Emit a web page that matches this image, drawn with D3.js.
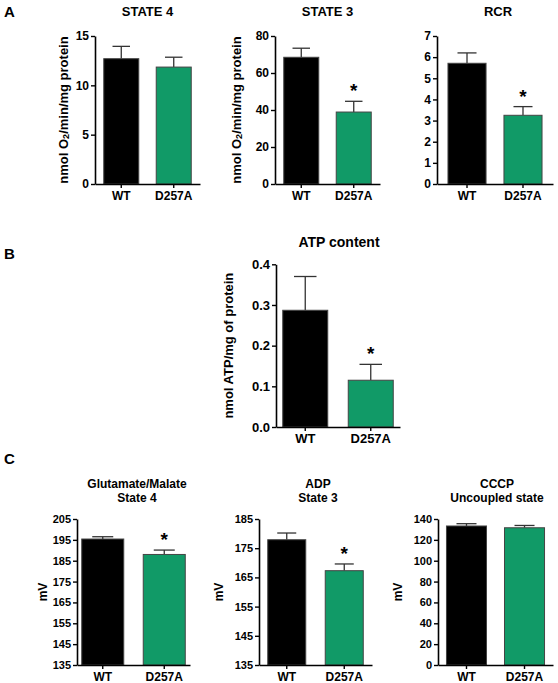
<!DOCTYPE html>
<html>
<head>
<meta charset="utf-8">
<script src="https://cdn.jsdelivr.net/npm/d3@7"></script>
<style>
  html, body { margin: 0; padding: 0; background: #fff; }
  svg { display: block; font-family: Arial, "Liberation Sans", sans-serif; font-weight: bold; }
</style>
</head>
<body>
<svg id="chart" width="558" height="683"></svg>
<script>
// ---------- DATA ----------
const groups = ["WT", "D257A"];

const state4Mean = [12.7, 11.85];
const state4Err  = [1.25, 1.0];
const state4Sig  = [false, false];
const state4Ticks = [0, 5, 10, 15];

const state3Mean = [68.5, 38.9];
const state3Err  = [4.9, 5.8];
const state3Sig  = [false, true];
const state3Ticks = [0, 20, 40, 60, 80];

const rcrMean = [5.71, 3.25];
const rcrErr  = [0.49, 0.41];
const rcrSig  = [false, true];
const rcrTicks = [0, 1, 2, 3, 4, 5, 6, 7];

const atpMean = [0.287, 0.115];
const atpErr  = [0.083, 0.039];
const atpSig  = [false, true];
const atpTicks = [0.0, 0.1, 0.2, 0.3, 0.4];

const gmMean = [195.4, 188.0];
const gmErr  = [1.1, 2.1];
const gmSig  = [false, true];
const gmTicks = [135, 145, 155, 165, 175, 185, 195, 205];

const adpMean = [177.9, 167.3];
const adpErr  = [2.3, 2.3];
const adpSig  = [false, true];
const adpTicks = [135, 145, 155, 165, 175, 185];

const cccpMean = [133.3, 131.6];
const cccpErr  = [2.2, 2.2];
const cccpSig  = [false, false];
const cccpTicks = [0, 20, 40, 60, 80, 100, 120, 140];

const barColors = ["#000000", "#119a67"];

// ---------- DRAW ----------
const svg = d3.select("#chart");

function panelLetter(txt, x, y) {
  svg.append("text").attr("x", x).attr("y", y)
    .attr("font-size", 15).attr("font-weight", "bold").text(txt);
}

function drawChart(cfg) {
  const g = svg.append("g");
  const x = d3.scaleBand().domain(groups)
    .range([cfg.x0, cfg.x1]).paddingInner(cfg.pi).paddingOuter(cfg.po);
  const y = d3.scaleLinear()
    .domain([cfg.ticks[0], cfg.ticks[cfg.ticks.length - 1]])
    .range([cfg.y1, cfg.y0]);

  // bars
  const data = groups.map((k, i) => ({ k, m: cfg.mean[i], e: cfg.err[i], s: cfg.sig[i], c: barColors[i] }));

  // error bars (upper only)
  data.forEach(d => {
    const cx = x(d.k) + x.bandwidth() / 2;
    const cw = x.bandwidth() * 0.25;
    g.append("line").attr("x1", cx).attr("x2", cx)
      .attr("y1", y(d.m)).attr("y2", y(d.m + d.e))
      .attr("stroke", "#333").attr("stroke-width", 1.3);
    g.append("line").attr("x1", cx - cw).attr("x2", cx + cw)
      .attr("y1", y(d.m + d.e)).attr("y2", y(d.m + d.e))
      .attr("stroke", "#333").attr("stroke-width", 1.3);
  });

  g.selectAll("rect.bar").data(data).join("rect")
    .attr("class", "bar")
    .attr("x", d => x(d.k))
    .attr("width", x.bandwidth())
    .attr("y", d => y(d.m))
    .attr("height", d => y(cfg.ticks[0]) - y(d.m))
    .attr("fill", d => d.c)
    .attr("stroke", "#444").attr("stroke-width", 1);

  // significance asterisks
  data.filter(d => d.s).forEach(d => {
    g.append("text")
      .attr("x", x(d.k) + x.bandwidth() / 2)
      .attr("y", y(d.m + d.e) - 4)
      .attr("text-anchor", "middle")
      .attr("font-size", 19).attr("font-weight", "bold")
      .text("*");
  });

  // y axis
  const ya = g.append("g").attr("transform", `translate(${cfg.x0},0)`)
    .call(d3.axisLeft(y).tickValues(cfg.ticks).tickSize(4).tickSizeOuter(0).tickPadding(2)
      .tickFormat(cfg.fmt ? d3.format(cfg.fmt) : d3.format("d")));
  ya.select(".domain").attr("stroke", "#000").attr("stroke-width", 1.6);
  ya.selectAll(".tick line").attr("stroke", "#000").attr("stroke-width", 1.4);
  ya.selectAll(".tick text").attr("font-size", cfg.tickFs).attr("font-weight", "bold")
    .attr("fill", "#000").attr("font-family", "Arial, 'Liberation Sans', sans-serif");

  // x axis
  const xa = g.append("g").attr("transform", `translate(0,${cfg.y1})`)
    .call(d3.axisBottom(x).tickSize(4).tickSizeOuter(0).tickPadding(3));
  xa.select(".domain").attr("stroke", "#000").attr("stroke-width", 1.6);
  xa.selectAll(".tick line").attr("stroke", "#000").attr("stroke-width", 1.4);
  xa.selectAll(".tick text").attr("font-size", cfg.xFs).attr("font-weight", "bold")
    .attr("fill", "#000").attr("font-family", "Arial, 'Liberation Sans', sans-serif");

  // title
  cfg.title.forEach((t, i) => {
    g.append("text").attr("x", cfg.tx).attr("y", cfg.ty + i * cfg.tls)
      .attr("text-anchor", "middle").attr("font-size", cfg.titleFs)
      .attr("font-weight", "bold").text(t);
  });

  // y label
  if (cfg.ylab) {
    const cy = (cfg.y0 + cfg.y1) / 2;
    const t = g.append("text")
      .attr("transform", `translate(${cfg.lx},${cy}) rotate(-90)`)
      .attr("text-anchor", "middle").attr("dominant-baseline", "central")
      .attr("font-size", cfg.labFs).attr("font-weight", "bold");
    cfg.ylab.forEach(part => {
      const ts = t.append("tspan").text(part.t);
      if (part.sub) ts.attr("font-size", cfg.labFs * 0.7).attr("dy", 3);
      if (part.after) ts.attr("dy", -3);
    });
  }
}

const o2Label = [{ t: "nmol O" }, { t: "2", sub: true }, { t: "/min/mg protein", after: true }];

panelLetter("A", 4, 17);
panelLetter("B", 4, 259);
panelLetter("C", 4, 464);

drawChart({ x0: 95, x1: 200, y0: 36, y1: 184, pi: 0.333, po: 0.167,
  mean: state4Mean, err: state4Err, sig: state4Sig, ticks: state4Ticks,
  tickFs: 12, xFs: 12, title: ["STATE 4"], tx: 147.5, ty: 15.5, tls: 14, titleFs: 13,
  ylab: o2Label, lx: 63, labFs: 13 });

drawChart({ x0: 275, x1: 380, y0: 36, y1: 184, pi: 0.333, po: 0.167,
  mean: state3Mean, err: state3Err, sig: state3Sig, ticks: state3Ticks,
  tickFs: 12, xFs: 12, title: ["STATE 3"], tx: 327.5, ty: 15.5, tls: 14, titleFs: 13,
  ylab: o2Label, lx: 236, labFs: 13 });

drawChart({ x0: 437, x1: 553, y0: 36, y1: 184, pi: 0.32, po: 0.196,
  mean: rcrMean, err: rcrErr, sig: rcrSig, ticks: rcrTicks,
  tickFs: 12, xFs: 12, title: ["RCR"], tx: 498, ty: 15.5, tls: 14, titleFs: 13,
  ylab: null });

drawChart({ x0: 276, x1: 400, y0: 264.3, y1: 427, pi: 0.313, po: 0.103,
  mean: atpMean, err: atpErr, sig: atpSig, ticks: atpTicks, fmt: ".1f",
  tickFs: 13, xFs: 13, title: ["ATP content"], tx: 339, ty: 247, tls: 14, titleFs: 14,
  ylab: [{ t: "nmol ATP/mg of protein" }], lx: 227.5, labFs: 13 });

drawChart({ x0: 77, x1: 190, y0: 519, y1: 665, pi: 0.317, po: 0.077,
  mean: gmMean, err: gmErr, sig: gmSig, ticks: gmTicks,
  tickFs: 11, xFs: 12, title: ["Glutamate/Malate", "State 4"], tx: 137, ty: 487.5, tls: 14, titleFs: 12,
  ylab: [{ t: "mV" }], lx: 43, labFs: 12 });

drawChart({ x0: 259, x1: 372, y0: 519, y1: 665, pi: 0.339, po: 0.152,
  mean: adpMean, err: adpErr, sig: adpSig, ticks: adpTicks,
  tickFs: 11, xFs: 12, title: ["ADP", "State 3"], tx: 318, ty: 487.5, tls: 14, titleFs: 12,
  ylab: [{ t: "mV" }], lx: 219, labFs: 12 });

drawChart({ x0: 438, x1: 553, y0: 519, y1: 665, pi: 0.31, po: 0.146,
  mean: cccpMean, err: cccpErr, sig: cccpSig, ticks: cccpTicks,
  tickFs: 11, xFs: 12, title: ["CCCP", "Uncoupled state"], tx: 497, ty: 487.5, tls: 14, titleFs: 12,
  ylab: [{ t: "mV" }], lx: 398, labFs: 12 });
</script>
</body>
</html>
